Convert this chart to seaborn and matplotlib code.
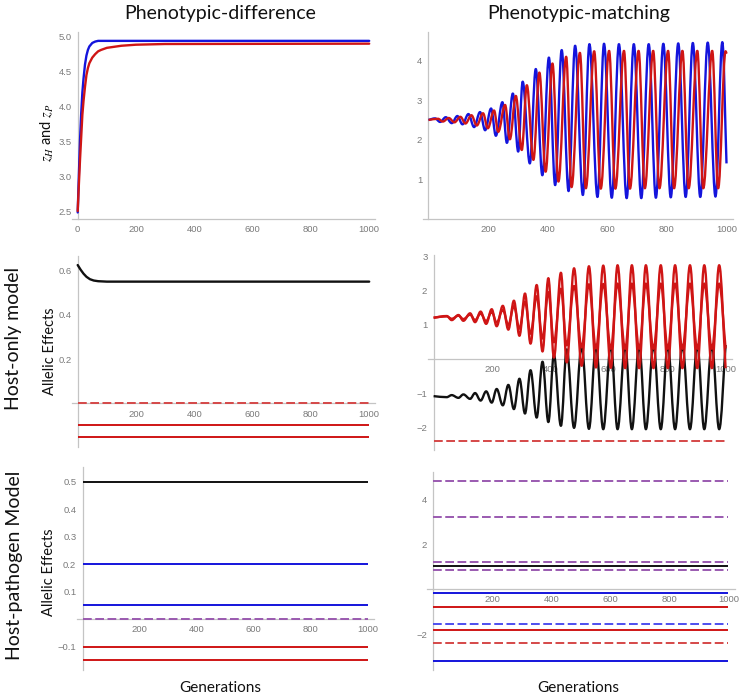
import matplotlib
matplotlib.use("Agg")
import matplotlib.pyplot as plt
from matplotlib.path import Path
from matplotlib.patches import PathPatch
import seaborn as sns

sns.set_style("white")
plt.rcParams['font.family'] = ['Lato', 'DejaVu Sans']
plt.rcParams['mathtext.fontset'] = 'stix'
plt.rcParams['axes.unicode_minus'] = True

# ---------------- data ----------------
GEN_SPAN = [0, 1000]

# top-left: phenotypic difference, host-only
TL_GEN = [0, 4, 8, 12, 16, 20, 25, 30, 35, 40, 50, 60, 70, 80, 100, 150, 200, 300, 1000]
TL_BLUE = [2.48, 3.02, 3.52, 3.90, 4.20, 4.40, 4.60, 4.73, 4.81, 4.86, 4.91, 4.93, 4.94, 4.94, 4.94, 4.94, 4.94, 4.94, 4.94]
TL_RED = [2.50, 2.88, 3.24, 3.56, 3.88, 4.08, 4.28, 4.45, 4.55, 4.62, 4.70, 4.75, 4.79, 4.81, 4.84, 4.87, 4.885, 4.895, 4.90]

# top-right: phenotypic matching (turning points of the cycles)
TR_BLUE_GEN = [0, 22, 39, 58, 78, 97, 114, 134, 153, 173, 190, 210, 226, 248, 263, 283, 301, 316, 340, 360,
               382, 404, 425, 447, 470, 492, 518, 540, 567, 589, 615, 639, 665, 689, 714, 739, 763, 788, 813, 838,
               863, 887, 912, 937, 963, 986, 1000]
TR_BLUE = [2.50, 2.54, 2.45, 2.57, 2.42, 2.60, 2.39, 2.65, 2.32, 2.70, 2.24, 2.79, 2.10, 2.95, 1.92, 3.17, 1.70, 3.47, 1.40, 3.79,
           1.10, 4.08, 0.85, 4.27, 0.70, 4.38, 0.60, 4.42, 0.55, 4.43, 0.53, 4.42, 0.52, 4.42, 0.52, 4.42, 0.53, 4.43, 0.54, 4.44,
           0.55, 4.45, 0.55, 4.46, 0.56, 4.47, 1.40]
TR_RED_GEN = [0, 32, 48, 68, 87, 107, 124, 144, 162, 183, 199, 220, 234, 257, 273, 293, 313, 330, 352, 372,
              393, 416, 436, 462, 480, 508, 528, 556, 578, 606, 627, 656, 676, 705, 726, 754, 775, 804, 824, 852,
              873, 902, 922, 952, 972, 997, 1000]
TR_RED = [2.50, 2.53, 2.46, 2.55, 2.44, 2.58, 2.41, 2.62, 2.36, 2.67, 2.29, 2.74, 2.20, 2.88, 2.01, 3.11, 1.74, 3.38, 1.49, 3.70,
          1.19, 3.93, 0.94, 4.10, 0.80, 4.20, 0.77, 4.24, 0.76, 4.25, 0.76, 4.25, 0.76, 4.25, 0.77, 4.25, 0.77, 4.25, 0.77, 4.25,
          0.77, 4.25, 0.77, 4.25, 0.77, 4.24, 4.18]

# middle-left: allelic effects, phenotypic difference
ML_GEN = [0, 10, 20, 30, 42, 55, 70, 100, 1000]
ML_BLACK = [0.626, 0.605, 0.587, 0.573, 0.562, 0.556, 0.553, 0.551, 0.551]
ML_RED_SOLID = [-0.10, -0.15]
ML_RED_DASH = [0.0]

# middle-right: allelic effects, phenotypic matching (turning points)
MR_GEN = [0, 45, 62, 85, 102, 125, 142, 161, 180, 199, 216, 237, 256, 275, 294, 313, 332, 353, 373, 393,
          412, 436, 456, 481, 507, 532, 556, 581, 607, 630, 656, 679, 704, 727, 753, 778, 802, 827, 852, 878,
          903, 927, 953, 978, 1000]
MR_RED_OUTER = [1.21, 1.26, 1.14, 1.29, 1.12, 1.34, 1.08, 1.39, 1.03, 1.46,
                0.96, 1.56, 0.86, 1.71, 0.68, 1.92, 0.45, 2.17, 0.22, 2.37,
                0.04, 2.53, -0.10, 2.66, -0.20, 2.72, -0.25, 2.74, -0.26, 2.75,
                -0.27, 2.75, -0.27, 2.75, -0.27, 2.75, -0.27, 2.75, -0.27, 2.75,
                -0.27, 2.75, -0.27, 2.75, -0.27]
MR_RED_INNER = [1.21, 1.25, 1.18, 1.27, 1.17, 1.30, 1.14, 1.33, 1.11, 1.38,
                1.07, 1.44, 1.00, 1.55, 0.89, 1.68, 0.74, 1.84, 0.60, 1.96,
                0.49, 2.06, 0.40, 2.14, 0.34, 2.19, 0.31, 2.20, 0.30, 2.21,
                0.30, 2.21, 0.30, 2.21, 0.30, 2.21, 0.30, 2.21, 0.30, 2.21,
                0.30, 2.21, 0.30, 2.21, 0.31]
MR_BLACK = [-1.09, -1.12, -1.06, -1.14, -1.04, -1.17, -1.00, -1.22, -0.95, -1.28,
            -0.88, -1.36, -0.76, -1.47, -0.58, -1.60, -0.33, -1.72, -0.08, -1.85,
            0.12, -1.96, 0.28, -2.02, 0.37, -2.05, 0.40, -2.06, 0.41, -2.06,
            0.41, -2.06, 0.41, -2.06, 0.41, -2.06, 0.41, -2.06, 0.41, -2.06,
            0.41, -2.06, 0.41, -2.06, 0.41]
MR_RED_DASH = [-2.4]

# bottom-left: host-pathogen, phenotypic difference
BL_BLACK = [0.5]
BL_BLUE = [0.2, 0.05]
BL_PURPLE_DASH = [0.0]
BL_RED = [-0.10, -0.15]

# bottom-right: host-pathogen, phenotypic matching
BR_PURPLE_DASH = [4.8, 3.2, 1.21, 0.83]
BR_BLACK = [1.02]
BR_BLUE = [-0.16, -3.2]
BR_RED = [-0.8, -1.8]
BR_BLUE_DASH = [-1.57]
BR_RED_DASH = [-2.4]

# tick labels
X_TICKS_TL = [0, 200, 400, 600, 800, 1000]
X_TICKS = [200, 400, 600, 800, 1000]
Y_TICKS_TL = [2.5, 3.0, 3.5, 4.0, 4.5, 5.0]
Y_TICKS_TR = [1, 2, 3, 4]
Y_TICKS_ML = [0.2, 0.4, 0.6]
Y_TICKS_MR = [-2, -1, 1, 2, 3]
Y_TICKS_BL = [-0.1, 0.1, 0.2, 0.3, 0.4, 0.5]
Y_TICKS_BR = [-2, 2, 4]

COL_TITLES = ["Phenotypic-difference", "Phenotypic-matching"]
ROW_TITLES = ["Host-only model", "Host-pathogen Model"]

# ---------------- styling ----------------
BLUE = '#1414DC'
RED = '#CF1515'
BLACK = '#111111'
PURPLE = '#9A5AB0'
RED_DASH = '#D54848'
BLUE_DASH = '#4E4EEE'
AXIS = '#C4C4C4'
TICK = '#7A7A7A'
LW = 1.7
HLW = 1.4
DASH = (0, (4.5, 1.8))

W, H = 739, 695
fig = plt.figure(figsize=(W / 100, H / 100), dpi=100)


def make_ax(gen0, ppg, xlim, ylim, ypx, xaxis_at):
    left = gen0 + xlim[0] * ppg
    right = gen0 + xlim[1] * ppg
    ybot, ytop = ypx
    ax = fig.add_axes([left / W, 1 - ybot / H, (right - left) / W, (ybot - ytop) / H])
    ax.set_xlim(*xlim)
    ax.set_ylim(*ylim)
    ax.patch.set_alpha(0)
    for s in ['top', 'right']:
        ax.spines[s].set_visible(False)
    ax.spines['left'].set_position(('data', 0))
    ax.spines['bottom'].set_position(('data', xaxis_at))
    for s in ['left', 'bottom']:
        ax.spines[s].set_color(AXIS)
        ax.spines[s].set_linewidth(0.9)
    ax.tick_params(axis='both', length=2, width=0.6, color=AXIS, labelsize=6.8,
                   labelcolor=TICK, pad=2.5)
    return ax


def fmt(v, dec):
    s = f"{abs(v):.{dec}f}"
    return ("\u2212" + s) if v < 0 else s


def set_ticks(ax, xt, yt, ydec):
    ax.set_xticks(xt, [str(v) for v in xt])
    ax.set_yticks(yt, [fmt(v, ydec) for v in yt])
    for lab in ax.get_xticklabels() + ax.get_yticklabels():
        lab.set_family('Liberation Sans')


K = 0.364


def smooth_line(ax, xs, ys, color, lw, z):
    verts = [(xs[0], ys[0])]
    codes = [Path.MOVETO]
    n = len(xs)
    for i in range(n - 1):
        x0, y0, x1, y1 = xs[i], ys[i], xs[i + 1], ys[i + 1]
        d = x1 - x0
        c1 = (x0 + d / 3, y0 + (y1 - y0) / 3) if i == 0 else (x0 + K * d, y0)
        c2 = (x1 - d / 3, y1 - (y1 - y0) / 3) if i == n - 2 else (x1 - K * d, y1)
        verts += [c1, c2, (x1, y1)]
        codes += [Path.CURVE4] * 3
    ax.add_patch(PathPatch(Path(verts, codes), facecolor='none', edgecolor=color,
                           lw=lw, zorder=z, capstyle='butt', joinstyle='round'))


# ---- top-left
ax = make_ax(77.7, 0.2915, (-20, 1020), (2.386, 5.07), (219, 31.8), 2.386)
sns.lineplot(x=TL_GEN, y=TL_BLUE, color=BLUE, lw=LW, ax=ax, zorder=3)
sns.lineplot(x=TL_GEN, y=TL_RED, color=RED, lw=LW, ax=ax, zorder=4)
set_ticks(ax, X_TICKS_TL, Y_TICKS_TL, 1)
ax.set_xlabel(''); ax.set_ylabel('')

# ---- top-right
ax = make_ax(428.5, 0.298, (-20, 1023), (0, 4.73), (218.7, 31.9), 0)
smooth_line(ax, TR_BLUE_GEN, TR_BLUE, BLUE, LW, 3)
smooth_line(ax, TR_RED_GEN, TR_RED, RED, LW, 4)
set_ticks(ax, X_TICKS, Y_TICKS_TR, 0)

# ---- middle-left
ax = make_ax(77.7, 0.2915, (-20, 1020), (-0.196, 0.667), (446.7, 256), 0)
sns.lineplot(x=ML_GEN, y=ML_BLACK, color=BLACK, lw=LW, ax=ax, zorder=3)
ax.hlines(ML_RED_SOLID, *GEN_SPAN, color=RED, lw=HLW, zorder=3)
ax.hlines(ML_RED_DASH, *GEN_SPAN, color=RED_DASH, lw=HLW, linestyles=[DASH], zorder=3)
set_ticks(ax, X_TICKS, Y_TICKS_ML, 1)
ax.set_xlabel(''); ax.set_ylabel('')

# ---- middle-right
ax = make_ax(433.6, 0.292, (-20, 1023), (-2.67, 3.05), (450, 255), 0)
smooth_line(ax, MR_GEN, MR_BLACK, BLACK, LW, 3)
smooth_line(ax, MR_GEN, MR_RED_OUTER, RED, LW, 4)
smooth_line(ax, MR_GEN, MR_RED_INNER, RED, LW, 4)
ax.hlines(MR_RED_DASH, *GEN_SPAN, color=RED_DASH, lw=HLW, linestyles=[DASH], zorder=3)
set_ticks(ax, X_TICKS, Y_TICKS_MR, 0)

# ---- bottom-left
ax = make_ax(82.5, 0.2855, (-20, 1020), (-0.185, 0.554), (669.9, 466.7), 0)
ax.hlines(BL_BLACK, *GEN_SPAN, color=BLACK, lw=HLW, zorder=3)
ax.hlines(BL_BLUE, *GEN_SPAN, color=BLUE, lw=HLW, zorder=3)
ax.hlines(BL_RED, *GEN_SPAN, color=RED, lw=HLW, zorder=3)
ax.hlines(BL_PURPLE_DASH, *GEN_SPAN, color=PURPLE, lw=HLW, linestyles=[DASH], zorder=3)
set_ticks(ax, X_TICKS, Y_TICKS_BL, 1)

# ---- bottom-right
ax = make_ax(433.3, 0.295, (-20, 1023), (-3.6, 5.21), (670, 471.8), 0)
ax.hlines(BR_PURPLE_DASH, *GEN_SPAN, color=PURPLE, lw=HLW, linestyles=[DASH], zorder=3)
ax.hlines(BR_BLACK, *GEN_SPAN, color=BLACK, lw=HLW, zorder=3)
ax.hlines(BR_BLUE, *GEN_SPAN, color=BLUE, lw=HLW, zorder=3)
ax.hlines(BR_RED, *GEN_SPAN, color=RED, lw=HLW, zorder=3)
ax.hlines(BR_BLUE_DASH, *GEN_SPAN, color=BLUE_DASH, lw=HLW, linestyles=[DASH], zorder=3)
ax.hlines(BR_RED_DASH, *GEN_SPAN, color=RED_DASH, lw=HLW, linestyles=[DASH], zorder=3)
set_ticks(ax, X_TICKS, Y_TICKS_BR, 0)


def ftext(x, y, s, **kw):
    fig.text(x / W, 1 - y / H, s, ha='center', va='center', **kw)


ftext(220.5, 13, COL_TITLES[0], fontsize=14, color='#111111')
ftext(579, 13, COL_TITLES[1], fontsize=14, color='#111111')
ftext(14, 338, ROW_TITLES[0], fontsize=14, rotation=90, color='#111111')
ftext(15, 565, ROW_TITLES[1], fontsize=14, rotation=90, color='#111111')
ftext(47, 133, r'$z_H$ and $z_P$', fontsize=10.5, rotation=90, color='#111111')
ftext(50, 351, 'Allelic Effects', fontsize=10.5, rotation=90, color='#111111')
ftext(49, 572, 'Allelic Effects', fontsize=10.5, rotation=90, color='#111111')
ftext(220.7, 688, 'Generations', fontsize=11, color='#111111')
ftext(578.3, 688, 'Generations', fontsize=11, color='#111111')

fig.savefig('out.png', dpi=100)
